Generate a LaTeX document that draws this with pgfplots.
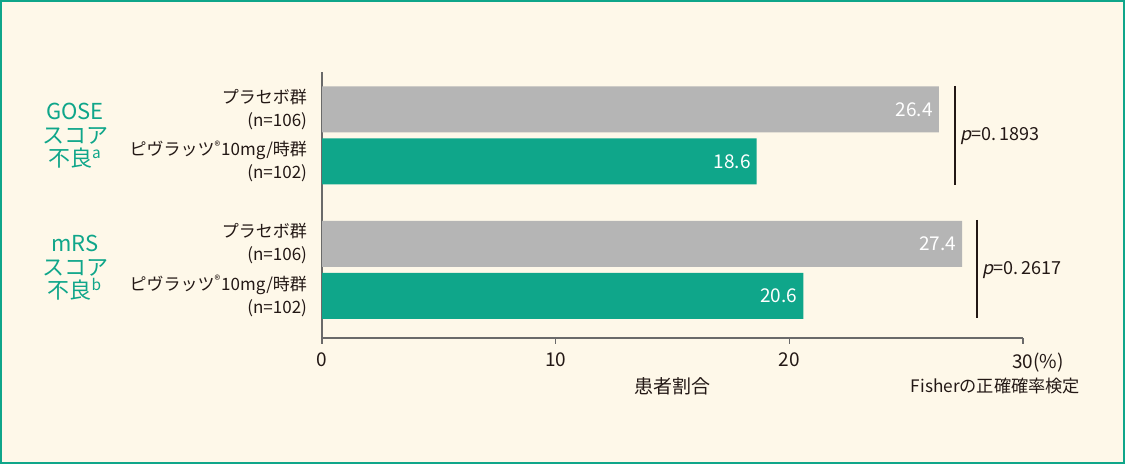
\documentclass[border=0pt]{standalone}
\usepackage{fontspec}
\setmainfont{Noto Sans CJK JP}[AutoFakeSlant=0.2]
\usepackage{pgfplots}
\pgfplotsset{compat=1.18}
\definecolor{bgc}{HTML}{FEF8E9}
\definecolor{teal1}{HTML}{0FA68A}
\definecolor{grayb}{HTML}{B5B5B5}
\definecolor{ink}{HTML}{231815}
\definecolor{axc}{HTML}{6A6A6A}
\begin{document}
\begin{tikzpicture}[x=1pt,y=1pt]
\useasboundingbox (0,0) rectangle (562.5,232);
\fill[bgc] (0,0) rectangle (562.5,232);
\draw[teal1, line width=1.2pt] (0.6,0.6) rectangle (561.9,231.4);

\begin{axis}[
    at={(161pt,63pt)}, anchor=south west,
    scale only axis, width=350.5pt, height=133pt,
    xmin=0, xmax=30, ymin=0, ymax=266,
    axis x line*=bottom, axis y line*=left,
    axis line style={axc, line width=0.6pt},
    xtick={0,10,20,30},
    xticklabels={0,10,20,{30\rlap{(\%)}}},
    tick align=outside, major tick length=3pt,
    x tick style={axc, line width=0.6pt},
    y tick style={draw=none},
    ytick={42,94,176.5,228.5},
    yticklabels={{ピヴラッツ\textsuperscript{®}10mg/時群\\(n=102)},
                 {プラセボ群\\(n=106)},
                 {ピヴラッツ\textsuperscript{®}10mg/時群\\(n=102)},
                 {プラセボ群\\(n=106)}},
    yticklabel style={align=right, font=\fontsize{8.5}{11.5}\selectfont, text=ink, xshift=-1pt},
    xticklabel style={font=\fontsize{9.5}{11}\selectfont, text=ink, yshift=-1pt},
    xlabel={患者割合},
    xlabel style={at={(axis description cs:0.5,-0.18)}, anchor=center, font=\fontsize{9.5}{11}\selectfont, text=ink},
    xbar, bar shift=0pt, bar width=46,
    nodes near coords,
    nodes near coords style={anchor=east, text=white, xshift=0.5pt,
        font=\fontsize{9.5}{11}\selectfont,
        /pgf/number format/.cd, fixed, precision=1, fixed zerofill, assume math mode=true},
    clip=false,
]
\addplot[fill=grayb, draw=none] coordinates {(26.4,228.5) (27.4,94)};
\addplot[fill=teal1, draw=none] coordinates {(18.6,176.5) (20.6,42)};

\draw[ink, line width=0.6pt] (axis cs:27.09,252) -- (axis cs:27.09,153);
\draw[ink, line width=0.6pt] (axis cs:28.03,118) -- (axis cs:28.03,20);
\node[anchor=west, text=ink, font=\fontsize{9}{10}\selectfont, inner sep=0pt] at (axis cs:27.30,202) {\textit{p}=0.\,1893};
\node[anchor=west, text=ink, font=\fontsize{9}{10}\selectfont, inner sep=0pt] at (axis cs:28.24,68) {\textit{p}=0.\,2617};
\end{axis}

\node[align=center, text=teal1, font=\fontsize{11}{11.75}\selectfont] at (37.5,164) {GOSE\\スコア\\不良\textsuperscript{a}};
\node[align=center, text=teal1, font=\fontsize{11}{11.75}\selectfont] at (37.5,98) {mRS\\スコア\\不良\textsuperscript{b}};
\node[text=ink, font=\fontsize{8.6}{10}\selectfont] at (497.75,39) {Fisherの正確確率検定};
\end{tikzpicture}
\end{document}
